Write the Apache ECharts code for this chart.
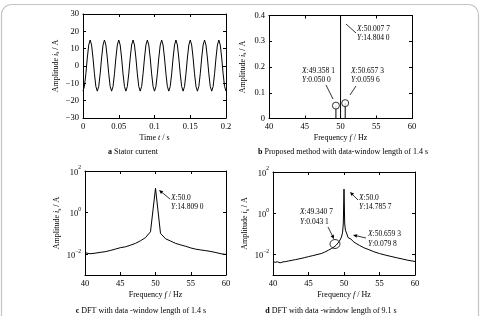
<!DOCTYPE html>
<html><head><meta charset="utf-8">
<script src="https://cdn.jsdelivr.net/npm/echarts@6/dist/echarts.min.js"></script>
<style>html,body{margin:0;padding:0;background:#fff}#c{width:480px;height:316px}</style>
</head><body><div id="c"></div>
<script>
// ---------- Panel a: stator current ----------
const timeA = [
0,0.002,0.004,0.006,0.008,0.010,0.012,0.014,0.016,0.018,
0.020,0.022,0.024,0.026,0.028,0.030,0.032,0.034,0.036,0.038,
0.040,0.042,0.044,0.046,0.048,0.050,0.052,0.054,0.056,0.058,
0.060,0.062,0.064,0.066,0.068,0.070,0.072,0.074,0.076,0.078,
0.080,0.082,0.084,0.086,0.088,0.090,0.092,0.094,0.096,0.098,
0.100,0.102,0.104,0.106,0.108,0.110,0.112,0.114,0.116,0.118,
0.120,0.122,0.124,0.126,0.128,0.130,0.132,0.134,0.136,0.138,
0.140,0.142,0.144,0.146,0.148,0.150,0.152,0.154,0.156,0.158,
0.160,0.162,0.164,0.166,0.168,0.170,0.172,0.174,0.176,0.178,
0.180,0.182,0.184,0.186,0.188,0.190,0.192,0.194,0.196,0.198,
0.200];
const currentA = [
-14.5,-11.8,-4.5,4.6,12.1,15.0,12.1,4.6,-4.5,-11.8,
-14.5,-11.8,-4.5,4.6,12.1,15.0,12.1,4.6,-4.5,-11.8,
-14.5,-11.8,-4.5,4.6,12.1,15.0,12.1,4.6,-4.5,-11.8,
-14.5,-11.8,-4.5,4.6,12.1,15.0,12.1,4.6,-4.5,-11.8,
-14.5,-11.8,-4.5,4.6,12.1,15.0,12.1,4.6,-4.5,-11.8,
-14.5,-11.8,-4.5,4.6,12.1,15.0,12.1,4.6,-4.5,-11.8,
-14.5,-11.8,-4.5,4.6,12.1,15.0,12.1,4.6,-4.5,-11.8,
-14.5,-11.8,-4.5,4.6,12.1,15.0,12.1,4.6,-4.5,-11.8,
-14.5,-11.8,-4.5,4.6,12.1,15.0,12.1,4.6,-4.5,-11.8,
-14.5,-11.8,-4.5,4.6,12.1,15.0,12.1,4.6,-4.5,-11.8,
-14.5];

// ---------- Panel b: proposed method ----------
const stemFreqB = [49.3581, 50.0077, 50.6573];
const stemAmpB  = [0.0500, 14.8040, 0.0596];

// ---------- Panel c: DFT 1.4 s ----------
const freqC = [40.00,40.71,41.43,42.14,42.86,43.57,44.29,45.00,45.71,46.43,47.14,47.86,48.57,49.29,50.00,50.71,51.43,52.14,52.86,53.57,54.29,55.00,55.71,56.43,57.14,57.86,58.57,59.29,60.00];
const ampC  = [0.0118,0.0105,0.0112,0.0122,0.0132,0.0150,0.0175,0.0205,0.0225,0.0270,0.0330,0.0440,0.0620,0.1200,14.809,0.1000,0.0550,0.0430,0.0330,0.0280,0.0240,0.0200,0.0175,0.0160,0.0148,0.0135,0.0120,0.0105,0.0097];

// ---------- Panel d: DFT 9.1 s ----------
const freqD = [40.0,40.3,40.6,41.0,41.4,41.8,42.2,42.7,43.2,43.8,44.4,45.0,45.6,46.2,46.8,47.3,47.8,48.2,48.6,48.9,49.1,49.3407,49.5,49.65,49.8,49.9,50.0,50.1,50.2,50.35,50.5,50.58,50.6593,50.74,50.85,51.0,51.3,51.7,52.2,52.8,53.5,54.2,55.0,55.8,56.6,57.4,58.2,59.0,59.6,60.0];
const ampD  = [0.0046,0.0041,0.0044,0.0039,0.0043,0.0045,0.0048,0.0052,0.0056,0.0062,0.0069,0.0078,0.0087,0.0098,0.0110,0.0130,0.0160,0.0190,0.0230,0.0280,0.0330,0.0431,0.0520,0.0700,0.1200,0.3000,14.7857,0.3000,0.1500,0.1100,0.0900,0.0650,0.0798,0.0600,0.0550,0.0550,0.0420,0.0340,0.0270,0.0210,0.0170,0.0135,0.0110,0.0093,0.0080,0.0069,0.0060,0.0052,0.0048,0.0045];

// tick values
const logTicks = [0.01, 1, 100];

const FONT = "'Liberation Serif', 'Times New Roman', serif";
const TICKFS = 8.5;

function minusFmt(v){ return String(v).replace('-', '\u2212'); }
function logFmt(v){
  const e = Math.round(Math.log10(v));
  return '{b|10}{s|' + (e < 0 ? '\u2212' + (-e) : e) + '}';
}
const logRich = {
  b: {fontFamily: FONT, fontSize: TICKFS, color: '#000', lineHeight: 12, verticalAlign: 'bottom'},
  s: {fontFamily: FONT, fontSize: 5.5, color: '#000', lineHeight: 6, verticalAlign: 'top'}
};
const nameRich = {
  i: {fontFamily: FONT, fontSize: 8, fontStyle: 'italic', color: '#000', lineHeight: 11},
  sub: {fontFamily: FONT, fontSize: 5.5, color: '#000', lineHeight: 6, verticalAlign: 'bottom'}
};
const nameStyle = {fontFamily: FONT, fontSize: 8, color: '#000', lineHeight: 11, rich: nameRich};

function axisBase(pos, gi, showLabel){
  return {
    gridIndex: gi, position: pos,
    axisLine: {show: true, onZero: false, lineStyle: {color: '#000', width: 1}},
    axisTick: {show: true, inside: true, length: 3, lineStyle: {color: '#000', width: 1}},
    axisLabel: {show: showLabel, color: '#000', fontFamily: FONT, fontSize: TICKFS, margin: 4},
    splitLine: {show: false}
  };
}
function valAxis(pos, gi, showLabel, min, max, interval, extra){
  const a = axisBase(pos, gi, showLabel);
  a.type = 'value'; a.min = min; a.max = max; a.interval = interval;
  if (showLabel) a.axisLabel.formatter = minusFmt;
  return Object.assign(a, extra || {});
}
function logAxis(pos, gi, showLabel, extra){
  const a = axisBase(pos, gi, showLabel);
  a.type = 'log'; a.logBase = 10; a.min = 0.001; a.max = 100;
  a.axisTick.customValues = logTicks;
  a.axisLabel.customValues = logTicks;
  a.axisLabel.formatter = logFmt;
  a.axisLabel.rich = logRich;
  return Object.assign(a, extra || {});
}
const yName = {name: 'Amplitude {i|i}{sub|s} / A', nameLocation: 'middle', nameTextStyle: nameStyle};
const fName = {name: 'Frequency {i|f} / Hz', nameLocation: 'middle', nameGap: 14, nameTextStyle: nameStyle};

const grids = [
  {left: 83, top: 14, width: 143, height: 104},
  {left: 269, top: 15.5, width: 143, height: 103},
  {left: 85, top: 171, width: 141, height: 104},
  {left: 273, top: 172, width: 142, height: 103}
];

const xAxes = [
  valAxis('bottom', 0, true, 0, 0.2, 0.05, {name: 'Time {i|t} / s', nameLocation: 'middle', nameGap: 14, nameTextStyle: nameStyle}),
  valAxis('top', 0, false, 0, 0.2, 0.05),
  valAxis('bottom', 1, true, 40, 60, 5, fName),
  valAxis('top', 1, false, 40, 60, 5),
  valAxis('bottom', 2, true, 40, 60, 5, fName),
  valAxis('top', 2, false, 40, 60, 5),
  valAxis('bottom', 3, true, 40, 60, 5, fName),
  valAxis('top', 3, false, 40, 60, 5)
];
const yAxes = [
  valAxis('left', 0, true, -30, 30, 10, Object.assign({nameGap: 22}, yName)),
  valAxis('right', 0, false, -30, 30, 10),
  valAxis('left', 1, true, 0, 0.4, 0.1, Object.assign({nameGap: 21}, yName)),
  valAxis('right', 1, false, 0, 0.4, 0.1),
  logAxis('left', 2, true, Object.assign({nameGap: 22}, yName)),
  logAxis('right', 2, false),
  logAxis('left', 3, true, Object.assign({nameGap: 22}, yName)),
  logAxis('right', 3, false)
];

const lineStyle = {color: '#000', width: 1};
const series = [
  {type: 'line', xAxisIndex: 0, yAxisIndex: 0, showSymbol: false, symbol: 'none', clip: true,
   lineStyle: lineStyle, data: timeA.map((t, i) => [t, currentA[i]])},
  {type: 'bar', xAxisIndex: 2, yAxisIndex: 2, barWidth: 1, clip: true, itemStyle: {color: '#000'},
   data: stemFreqB.map((f, i) => [f, stemAmpB[i]])},
  {type: 'scatter', xAxisIndex: 2, yAxisIndex: 2, symbol: 'circle', symbolSize: 7, clip: true,
   itemStyle: {color: '#fff', borderColor: '#000', borderWidth: 1},
   data: stemFreqB.map((f, i) => [f, stemAmpB[i]])},
  {type: 'line', xAxisIndex: 4, yAxisIndex: 4, symbol: 'none', clip: true,
   lineStyle: lineStyle, data: freqC.map((f, i) => [f, ampC[i]])},
  {type: 'line', xAxisIndex: 6, yAxisIndex: 6, symbol: 'none', clip: true,
   lineStyle: lineStyle, data: freqD.map((f, i) => [f, ampD[i]])}
];

// annotation helpers (positions in pixels)
const annRich = {i: {fontStyle: 'italic', fontFamily: FONT, fontSize: 7.5, fill: '#000'}};
function txt(t, x, y, align, fs, rich){
  return {type: 'text', x: x, y: y, z: 10, silent: true,
    style: {text: t, fontFamily: FONT, fontSize: fs || 7.5, fill: '#000',
      align: align || 'left', verticalAlign: 'middle', rich: rich || annRich}};
}
function seg(x1, y1, x2, y2){
  return {type: 'line', z: 10, silent: true, shape: {x1, y1, x2, y2}, style: {stroke: '#000', lineWidth: 0.8}};
}
function arrow(x1, y1, x2, y2){
  const dx = x2 - x1, dy = y2 - y1, L = Math.hypot(dx, dy), ux = dx / L, uy = dy / L;
  const hl = 4, hw = 1.8;
  const bx = x2 - ux * hl, by = y2 - uy * hl;
  return [seg(x1, y1, bx, by),
    {type: 'polygon', z: 10, silent: true,
     shape: {points: [[x2, y2], [bx - uy * hw, by + ux * hw], [bx + uy * hw, by - ux * hw]]},
     style: {fill: '#000'}}];
}
const capRich = {b: {fontWeight: 'bold', fontFamily: FONT, fontSize: 8, fill: '#000'}};

const graphics = [
  {type: 'rect', z: -1, silent: true, shape: {x: 1.5, y: 4.5, width: 477, height: 340, r: 10},
   style: {fill: 'none', stroke: '#c4c4c4', lineWidth: 1.2}},
  // panel b
  txt('{i|X}:50.007 7', 357, 29), txt('{i|Y}:14.804 0', 357, 38), seg(346, 24, 356, 33),
  txt('{i|X}:49.358 1', 302, 71), txt('{i|Y}:0.050 0', 302, 80), seg(326, 85, 333, 99),
  txt('{i|X}:50.657 3', 351, 71), txt('{i|Y}:0.059 6', 351, 80), seg(356, 86, 350, 95),
  // panel c
  txt('{i|X}:50.0', 171, 198), txt('{i|Y}:14.809 0', 171, 207.5),
  ...arrow(170, 199, 159, 190),
  // panel d
  txt('{i|X}:50.0', 359, 198), txt('{i|Y}:14.785 7', 359, 207.5),
  ...arrow(358, 200, 350, 192),
  txt('{i|X}:49.340 7', 300, 212.5), txt('{i|Y}:0.043 1', 300, 222),
  ...arrow(328, 227, 334, 239),
  {type: 'ellipse', z: 10, silent: true, shape: {cx: 335, cy: 244, rx: 5, ry: 4.5},
   style: {fill: 'none', stroke: '#000', lineWidth: 0.8}},
  txt('{i|X}:50.659 3', 368, 234), txt('{i|Y}:0.079 8', 368, 244),
  ...arrow(366, 238, 353, 235),
  // captions
  txt('{b|a} Stator current', 133, 151.5, 'center', 8, capRich),
  txt('{b|b} Proposed method with data-window length of 1.4 s', 343, 151.5, 'center', 8, capRich),
  txt('{b|c} DFT with data -window length of 1.4 s', 141, 311, 'center', 8, capRich),
  txt('{b|d} DFT with data -window length of 9.1 s', 331, 311, 'center', 8, capRich)
];

const chart = echarts.init(document.getElementById('c'), null, {renderer: 'canvas'});
chart.setOption({
  animation: false,
  backgroundColor: '#fff',
  grid: grids,
  xAxis: xAxes,
  yAxis: yAxes,
  series: series,
  graphic: graphics
});
</script>
</body></html>
